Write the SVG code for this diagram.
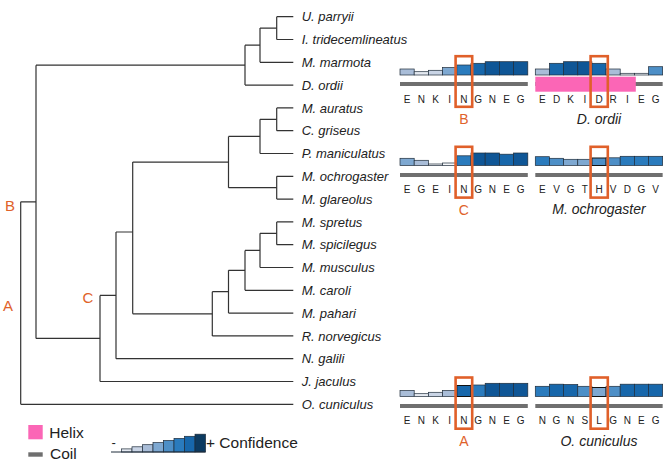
<svg xmlns="http://www.w3.org/2000/svg" width="669" height="466" viewBox="0 0 669 466">
<style>
text{font-family:"Liberation Sans",Arial,Helvetica,sans-serif;fill:#222}
.sp{font-size:13px;font-style:italic}
.nl{font-size:15px;fill:#e0622a}
.pl{font-size:14px;fill:#e0622a;text-anchor:middle}
.cap{font-size:14px;font-style:italic;text-anchor:middle}
.aa{font-size:10px;text-anchor:middle}
.lg{font-size:15.5px}
.br{fill:none;stroke:#333;stroke-width:1.2}
.bar rect{stroke:#1e2c3a;stroke-width:0.7}
.coil{fill:#6f6f6f}
.helix{fill:#fb66b6}
.box{fill:none;stroke:#e0602a;stroke-width:2.6}
.q0{fill:#f6f8fb}.q1{fill:#e4e9f1}.q2{fill:#c9d4e5}.q3{fill:#a9bdd8}.q4{fill:#7ea8d1}
.q5{fill:#4d8fc7}.q6{fill:#2a7bbd}.q7{fill:#1767ab}.q8{fill:#0f5696}.q9{fill:#0c3a60}
</style>

<g id="connectors" class="br">
<path d="M276.7,16.7H293.3M276.7,39.5H293.3M276.7,16.7V39.5"/>
<path d="M260,28.1H276.7M260,62.3H293.3M260,28.1V62.3"/>
<path d="M245,45.2H260M245,85.1H293.3M245,45.2V85.1"/>
<path d="M276.7,107.9H293.3M276.7,130.7H293.3M276.7,107.9V130.7"/>
<path d="M260,119.3H276.7M260,153.5H293.3M260,119.3V153.5"/>
<path d="M276.7,176.3H293.3M276.7,199.1H293.3M276.7,176.3V199.1"/>
<path d="M228.5,136.4H260M228.5,187.7H276.7M228.5,136.4V187.7"/>
<path d="M276.7,221.9H293.3M276.7,244.7H293.3M276.7,221.9V244.7"/>
<path d="M260,233.3H276.7M260,267.5H293.3M260,233.3V267.5"/>
<path d="M245,250.4H260M245,290.3H293.3M245,250.4V290.3"/>
<path d="M228.5,270.35H245M228.5,313.1H293.3M228.5,270.35V313.1"/>
<path d="M212.3,291.7H228.5M212.3,335.9H293.3M212.3,291.7V335.9"/>
<path d="M132.7,162.05H228.5M132.7,313.8H212.3M132.7,162.05V313.8"/>
<path d="M116,232H132.7M116,358.7H293.3M116,232V358.7"/>
<path d="M100,295.4H116M100,381.5H293.3M100,295.4V381.5"/>
<path d="M36,65.15H245M36,338.4H100M36,65.15V338.4"/>
<path d="M20.7,201.8H36M20.7,404.3H293.3M20.7,201.8V404.3"/>
</g>

<g id="node-labels">
<text id="label-B" class="nl" x="5" y="210.5">B</text>
<text id="label-A" class="nl" x="3" y="310.5">A</text>
<text id="label-C" class="nl" x="82.5" y="303">C</text>
</g>

<g id="species">
<g id="t-uparryii"><text class="sp" x="301.7" y="21.3">U. parryii</text></g>
<g id="t-itrid"><text class="sp" x="301.7" y="44.1">I. tridecemlineatus</text></g>
<g id="t-mmarmota"><text class="sp" x="301.7" y="66.9">M. marmota</text></g>
<g id="t-dordii"><text class="sp" x="301.7" y="89.7">D. ordii</text></g>
<g id="t-mauratus"><text class="sp" x="301.7" y="112.5">M. auratus</text></g>
<g id="t-cgriseus"><text class="sp" x="301.7" y="135.3">C. griseus</text></g>
<g id="t-pmanic"><text class="sp" x="301.7" y="158.1">P. maniculatus</text></g>
<g id="t-mochro"><text class="sp" x="301.7" y="180.9">M. ochrogaster</text></g>
<g id="t-mglar"><text class="sp" x="301.7" y="203.7">M. glareolus</text></g>
<g id="t-mspretus"><text class="sp" x="301.7" y="226.5">M. spretus</text></g>
<g id="t-mspic"><text class="sp" x="301.7" y="249.3">M. spicilegus</text></g>
<g id="t-mmusc"><text class="sp" x="301.7" y="272.1">M. musculus</text></g>
<g id="t-mcaroli"><text class="sp" x="301.7" y="294.9">M. caroli</text></g>
<g id="t-mpahari"><text class="sp" x="301.7" y="317.7">M. pahari</text></g>
<g id="t-rnorv"><text class="sp" x="301.7" y="340.5">R. norvegicus</text></g>
<g id="t-ngalili"><text class="sp" x="301.7" y="363.3">N. galili</text></g>
<g id="t-jjac"><text class="sp" x="301.7" y="386.1">J. jaculus</text></g>
<g id="t-ocun"><text class="sp" x="301.7" y="408.9">O. cuniculus</text></g>
</g>

<!-- Row 1 left: B -->
<g id="panel-B">
<g class="bar">
<rect class="q3" x="400" y="69" width="14.2" height="6"/>
<rect class="q1" x="414.2" y="71.7" width="14.2" height="3.3"/>
<rect class="q2" x="428.4" y="70.3" width="14.2" height="4.7"/>
<rect class="q4" x="442.6" y="67.5" width="14.2" height="7.5"/>
<rect class="q6" x="456.8" y="65" width="14.2" height="10"/>
<rect class="q7" x="471" y="63.3" width="14.2" height="11.7"/>
<rect class="q8" x="485.2" y="61.7" width="14.2" height="13.3"/>
<rect class="q8" x="499.4" y="61.7" width="14.2" height="13.3"/>
<rect class="q8" x="513.6" y="61.7" width="14.2" height="13.3"/>
</g>
<rect class="coil" x="400" y="82" width="127.8" height="4"/>
<g class="aa"><text x="407.1" y="102.5">E</text><text x="421.3" y="102.5">N</text><text x="435.5" y="102.5">K</text><text x="449.7" y="102.5">I</text><text x="463.9" y="102.5">N</text><text x="478.1" y="102.5">G</text><text x="492.3" y="102.5">N</text><text x="506.5" y="102.5">E</text><text x="520.7" y="102.5">G</text></g>
<rect class="box" x="455.6" y="56.2" width="16.6" height="50.6"/>
<text class="pl" x="463.9" y="123.5">B</text>
</g>

<!-- Row 1 right: D. ordii -->
<g id="panel-dordii">
<g class="bar">
<rect class="q3" x="535.3" y="69" width="14.15" height="6"/>
<rect class="q7" x="549.45" y="63.3" width="14.15" height="11.7"/>
<rect class="q8" x="563.6" y="61.7" width="14.15" height="13.3"/>
<rect class="q8" x="577.75" y="61.7" width="14.15" height="13.3"/>
<rect class="q7" x="591.9" y="63.3" width="14.15" height="11.7"/>
<rect class="q3" x="606.05" y="69" width="14.15" height="6"/>
<rect class="q0" x="620.2" y="73.3" width="14.15" height="1.7"/>
<rect class="q0" x="634.35" y="73.3" width="14.15" height="1.7"/>
<rect class="q5" x="648.5" y="66.7" width="14.15" height="8.3"/>
</g>
<rect class="coil" x="535.3" y="82" width="127.35" height="4"/>
<rect class="helix" x="535.3" y="76.7" width="100.5" height="15"/>
<g class="aa"><text x="542.4" y="102.5">E</text><text x="556.5" y="102.5">D</text><text x="570.7" y="102.5">K</text><text x="584.8" y="102.5">I</text><text x="599" y="102.5">D</text><text x="613.1" y="102.5">R</text><text x="627.3" y="102.5">I</text><text x="641.4" y="102.5">E</text><text x="655.6" y="102.5">G</text></g>
<rect class="box" x="590.6" y="56.2" width="17.2" height="50.6"/>
<text class="cap" x="599" y="123.5">D. ordii</text>
</g>

<!-- Row 2 left: C -->
<g id="panel-C">
<g class="bar">
<rect class="q4" x="400" y="158.3" width="14.2" height="7.2"/>
<rect class="q3" x="414.2" y="160.3" width="14.2" height="5.2"/>
<rect class="q0" x="428.4" y="164" width="14.2" height="1.5"/>
<rect class="q0" x="442.6" y="163" width="14.2" height="2.5"/>
<rect class="q6" x="456.8" y="155.8" width="14.2" height="9.7"/>
<rect class="q8" x="471" y="153" width="14.2" height="12.5"/>
<rect class="q8" x="485.2" y="153" width="14.2" height="12.5"/>
<rect class="q7" x="499.4" y="154.2" width="14.2" height="11.3"/>
<rect class="q8" x="513.6" y="153" width="14.2" height="12.5"/>
</g>
<rect class="coil" x="400" y="173" width="127.8" height="4"/>
<g class="aa"><text x="407.1" y="193.2">E</text><text x="421.3" y="193.2">G</text><text x="435.5" y="193.2">E</text><text x="449.7" y="193.2">I</text><text x="463.9" y="193.2">N</text><text x="478.1" y="193.2">G</text><text x="492.3" y="193.2">N</text><text x="506.5" y="193.2">E</text><text x="520.7" y="193.2">G</text></g>
<rect class="box" x="455.6" y="146.8" width="16.6" height="50.8"/>
<text class="pl" x="463.9" y="214.5">C</text>
</g>

<!-- Row 2 right: M. ochrogaster -->
<g id="panel-mochrogaster">
<g class="bar">
<rect class="q6" x="535.3" y="156.7" width="14.15" height="8.8"/>
<rect class="q5" x="549.45" y="158.3" width="14.15" height="7.2"/>
<rect class="q4" x="563.6" y="159.3" width="14.15" height="6.2"/>
<rect class="q4" x="577.75" y="159.3" width="14.15" height="6.2"/>
<rect class="q5" x="591.9" y="158" width="14.15" height="7.5" style="stroke:#111;stroke-width:1"/>
<rect class="q5" x="606.05" y="157.8" width="14.15" height="7.7"/>
<rect class="q6" x="620.2" y="156.3" width="14.15" height="9.2"/>
<rect class="q6" x="634.35" y="156.3" width="14.15" height="9.2"/>
<rect class="q6" x="648.5" y="156.3" width="14.15" height="9.2"/>
</g>
<rect class="coil" x="535.3" y="173" width="127.35" height="4"/>
<g class="aa"><text x="542.4" y="193.2">E</text><text x="556.5" y="193.2">V</text><text x="570.7" y="193.2">G</text><text x="584.8" y="193.2">T</text><text x="599" y="193.2">H</text><text x="613.1" y="193.2">V</text><text x="627.3" y="193.2">D</text><text x="641.4" y="193.2">G</text><text x="655.6" y="193.2">V</text></g>
<rect class="box" x="590.6" y="146.8" width="17.2" height="50.8"/>
<text class="cap" x="599" y="214">M. ochrogaster</text>
</g>

<!-- Row 3 left: A -->
<g id="panel-A">
<g class="bar">
<rect class="q3" x="400" y="390.5" width="14.2" height="6"/>
<rect class="q1" x="414.2" y="393.7" width="14.2" height="2.8"/>
<rect class="q2" x="428.4" y="392.3" width="14.2" height="4.2"/>
<rect class="q3" x="442.6" y="390.5" width="14.2" height="6"/>
<rect class="q7" x="456.8" y="385.5" width="14.2" height="11" style="stroke:#111;stroke-width:1"/>
<rect class="q6" x="471" y="385" width="14.2" height="11.5"/>
<rect class="q8" x="485.2" y="383.3" width="14.2" height="13.2"/>
<rect class="q8" x="499.4" y="383.3" width="14.2" height="13.2"/>
<rect class="q8" x="513.6" y="383.3" width="14.2" height="13.2"/>
</g>
<rect class="coil" x="400" y="404" width="127.8" height="4"/>
<g class="aa"><text x="407.1" y="424.2">E</text><text x="421.3" y="424.2">N</text><text x="435.5" y="424.2">K</text><text x="449.7" y="424.2">I</text><text x="463.9" y="424.2">N</text><text x="478.1" y="424.2">G</text><text x="492.3" y="424.2">N</text><text x="506.5" y="424.2">E</text><text x="520.7" y="424.2">G</text></g>
<rect class="box" x="455.6" y="377.5" width="16.6" height="51.2"/>
<text class="pl" x="463.9" y="445.5">A</text>
</g>

<!-- Row 3 right: O. cuniculus -->
<g id="panel-ocuniculus">
<g class="bar">
<rect class="q6" x="535.3" y="386.3" width="14.15" height="10.2"/>
<rect class="q7" x="549.45" y="384.2" width="14.15" height="12.3"/>
<rect class="q7" x="563.6" y="384.5" width="14.15" height="12"/>
<rect class="q5" x="577.75" y="386.3" width="14.15" height="10.2"/>
<rect class="q4" x="591.9" y="387.5" width="14.15" height="9" style="stroke:#111;stroke-width:1"/>
<rect class="q5" x="606.05" y="386.3" width="14.15" height="10.2"/>
<rect class="q7" x="620.2" y="384.2" width="14.15" height="12.3"/>
<rect class="q7" x="634.35" y="384.2" width="14.15" height="12.3"/>
<rect class="q7" x="648.5" y="384.2" width="14.15" height="12.3"/>
</g>
<rect class="coil" x="535.3" y="404" width="127.35" height="4"/>
<g class="aa"><text x="542.4" y="424.2">N</text><text x="556.5" y="424.2">G</text><text x="570.7" y="424.2">N</text><text x="584.8" y="424.2">S</text><text x="599" y="424.2">L</text><text x="613.1" y="424.2">G</text><text x="627.3" y="424.2">N</text><text x="641.4" y="424.2">E</text><text x="655.6" y="424.2">G</text></g>
<rect class="box" x="590.6" y="377.5" width="17.2" height="51.2"/>
<text class="cap" x="599" y="445.5">O. cuniculus</text>
</g>

<!-- Legend -->
<g id="legend">
<rect class="helix" x="28.3" y="425" width="14.4" height="14.3"/>
<text class="lg" x="49.3" y="438.3">Helix</text>
<rect class="coil" x="28.3" y="452.3" width="14.4" height="4.4"/>
<text class="lg" x="50" y="459.3">Coil</text>
<text x="111.5" y="446.5" style="font-size:13px">-</text>
<g class="bar">
<rect class="q1" x="121.5" y="448.9" width="10.5" height="3.1"/>
<rect class="q2" x="132" y="446.8" width="10.5" height="5.2"/>
<rect class="q3" x="142.5" y="444.7" width="10.5" height="7.3"/>
<rect class="q4" x="153" y="442.6" width="10.5" height="9.4"/>
<rect class="q5" x="163.5" y="440.5" width="10.5" height="11.5"/>
<rect class="q6" x="174" y="438.4" width="10.5" height="13.6"/>
<rect class="q7" x="184.5" y="436.3" width="10.5" height="15.7"/>
<rect class="q9" x="195" y="434.2" width="10.5" height="17.8"/>
</g>
<line x1="111" y1="452" x2="205.5" y2="452" stroke="#1e2c3a" stroke-width="1"/>
<text class="lg" x="206" y="448.3">+ Confidence</text>
</g>
</svg>
